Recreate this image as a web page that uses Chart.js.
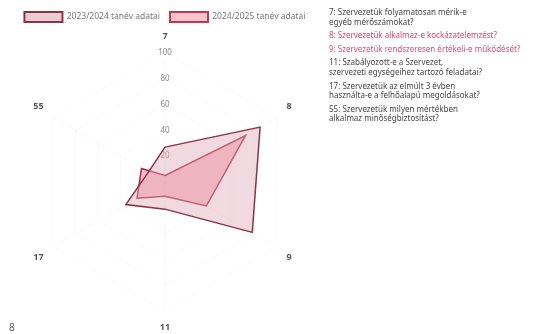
<html>
  <head>
    <script src="https://cdn.jsdelivr.net/npm/chart.js@4/dist/chart.umd.min.js"></script>
    <style>
      body {
        margin: 0;
        background: #fff;
        font-family: "Noto Sans", Arial;
      }
      #chartCtn {
        position: absolute;
        left: 0;
        top: 0;
        width: 330px;
        height: 334px;
      }
      #questions {
        position: absolute;
        left: 329px;
        top: 7px;
        width: 205px;
        font-size: 8px;
        line-height: 9.6px;
        color: #444;
      }
      #questions p {
        margin: 0 0 4px 0;
      }
      .hl8 { color: #d8485f; }
      .hl9 { color: #d4507c; }
      #corner {
        position: absolute;
        left: 9px;
        top: 320px;
        font-size: 10px;
        color: #555;
      }
    </style>
    <title>Radar</title>
  </head>
  <body>
    <div id="chartCtn">
      <canvas id="canvas"></canvas>
    </div>
    <div id="corner">8</div>
    <div id="questions">
      <p>7: Szervezetük folyamatosan mérik-e<br>egyéb mérőszámokat?</p>
      <p class="hl8">8: Szervezetük alkalmaz-e kockázatelemzést?</p>
      <p class="hl9">9: Szervezetük rendszeresen értékeli-e működését?</p>
      <p>11: Szabályozott-e a Szervezet,<br>szervezeti egységeihez tartozó feladatai?</p>
      <p>17: Szervezetük az elmúlt 3 évben<br>használta-e a felhőalapú megoldásokat?</p>
      <p>55: Szervezetük milyen mértékben<br>alkalmaz minőségbiztosítást?</p>
    </div>

    <script type="text/javascript">
      var questions = ["7", "8", "9", "11", "17", "55"];
      var seriesNames = ["2023/2024 tanév adatai", "2024/2025 tanév adatai"];
      var outerValues = [27, 85, 78, 21, 35, 15];
      var innerValues = [5, 72, 37, 11, 25, 21];
      var tickValues = [0, 20, 40, 60, 80, 100];

      var ctx = document.getElementById("canvas");

      var chart = new Chart(ctx, {
        type: "radar",
        data: {
          labels: questions,
          datasets: [{
            label: seriesNames[0],
            data: outerValues,
            backgroundColor: "rgba(222, 170, 185, 0.45)",
            borderColor: "#8a3446",
            borderWidth: 1.5,
            pointRadius: 0
          }, {
            label: seriesNames[1],
            data: innerValues,
            backgroundColor: "rgba(246, 110, 135, 0.45)",
            borderColor: "#a8283f",
            borderWidth: 1.5,
            pointRadius: 0
          }]
        },
        options: {
          responsive: true,
          maintainAspectRatio: false,
          animation: false,
          layout: {
            padding: { top: 2, bottom: 0 }
          },
          plugins: {
            legend: {
              display: true,
              position: "top",
              labels: {
                boxWidth: 38,
                boxHeight: 10,
                color: "#777",
                font: { size: 8.5, family: "Noto Sans" },
                generateLabels: function(c) {
                  var items = Chart.defaults.plugins.legend.labels.generateLabels(c);
                  items[0].fillStyle = "#eccbd4";
                  items[1].fillStyle = "#fbc3cc";
                  items[0].lineWidth = 2;
                  items[1].lineWidth = 2;
                  items[1].strokeStyle = "#c0384e";
                  return items;
                }
              }
            },
            tooltip: { enabled: false }
          },
          scales: {
            r: {
              min: tickValues[0],
              max: tickValues[tickValues.length - 1],
              ticks: {
                stepSize: tickValues[1] - tickValues[0],
                color: "#888",
                font: { size: 8, family: "Noto Sans" },
                backdropColor: "rgba(255,255,255,0.85)",
                backdropPadding: 1
              },
              grid: { color: "rgba(0,0,0,0.025)" },
              angleLines: { color: "rgba(0,0,0,0.03)" },
              pointLabels: {
                color: "#555",
                font: { size: 9, weight: "bold", family: "Noto Sans" },
                padding: 6
              }
            }
          }
        }
      });
    </script>
  </body>
</html>
